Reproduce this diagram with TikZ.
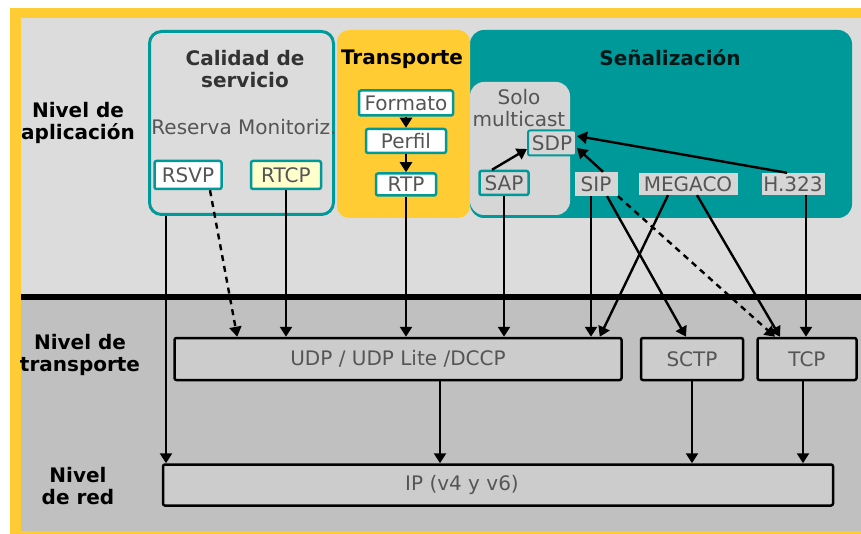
\documentclass[tikz,border=0pt]{standalone}
\usepackage{fontspec}
\setmainfont{DejaVu Sans}
\usetikzlibrary{arrows.meta,positioning}

\definecolor{marco}{HTML}{FFCC33}
\definecolor{fondoapl}{HTML}{DCDCDC}
\definecolor{fondotr}{HTML}{C0C0C0}
\definecolor{verde}{HTML}{009999}
\definecolor{grismulti}{HTML}{D6D6D6}
\definecolor{griscapa}{HTML}{CCCCCC}
\definecolor{textobox}{HTML}{555555}
\definecolor{crema}{HTML}{FFFFCC}
\newcommand{\letra}{\fontsize{20}{22}\selectfont}

\tikzset{
  nivel/.style={font=\letra\bfseries, align=center},
  grupo/.style={line width=3pt, rounded corners=12pt, inner sep=0pt},
  proto/.style={draw=verde, line width=2.5pt, fill=white, text=textobox,
    font=\letra, inner sep=0pt, rounded corners=2pt},
  senal/.style={fill=grismulti, text=textobox, font=\letra, inner sep=0pt},
  capa/.style={draw=black, line width=2.5pt, fill=griscapa, text=textobox,
    font=\letra, inner sep=0pt, minimum height=42pt, rounded corners=2pt},
  flecha/.style={line width=2.4pt, -{Triangle[length=10pt,width=12pt]}},
  discont/.style={flecha, dash pattern=on 6pt off 5pt},
}

\begin{document}
\begin{tikzpicture}[x=1pt,y=-1pt]
\useasboundingbox (0,0) rectangle (861,534);
% fondo
\fill[white] (0,0) rectangle (861,534);
\fill[marco] (10,8) rectangle (861,534);
\fill[fondoapl] (21,18) rectangle (861,297);
\fill[fondotr] (21,297) rectangle (861,531);
\draw[line width=6.5pt] (21,297) -- (861,297);

% niveles
\node[nivel] (napl) at (78,123) {Nivel de\\aplicación};
\node[nivel] (ntra) at (80,355) {Nivel de\\transporte};
\node[nivel] (nred) at (78,486) {Nivel\\de red};

% grupos del nivel de aplicacion
\node[grupo, draw=verde, minimum width=184pt, minimum height=183pt] (qos) at (241.5,123) {};
\node[grupo, fill=verde, rounded corners=14pt, minimum width=382pt, minimum height=188pt] (sen) at (661,124) {};
\node[grupo, fill=marco, minimum width=133pt, minimum height=188pt] (tra) at (403.5,124) {};
\node[grupo, fill=grismulti, rounded corners=14pt, minimum width=100pt, minimum height=133pt] (multi) at (520,148.5) {};

\node[nivel, text=black!80] (tqos) at (245,69) {Calidad de\\servicio};
\node[font=\letra, text=textobox] (reserva) at (244,127) {Reserva Monitoriz.};
\node[nivel] (ttra) at (402,59) {Transporte};
\node[nivel, text=black!85!verde] (tsen) at (670,58) {Señalización};
\node[font=\letra, text=textobox, align=center] (tmulti) at (519,108) {Solo\\multicast};

% protocolos
\node[proto, minimum width=67pt, minimum height=28pt] (rsvp) at (188,175) {RSVP};
\node[proto, fill=crema, minimum width=70pt, minimum height=28pt] (rtcp) at (286,175) {RTCP};
\node[proto, minimum width=94pt, minimum height=25pt] (formato) at (406,103) {Formato};
\node[proto, minimum width=80pt, minimum height=24pt, below=11pt of formato] (perfil) {Perfil};
\node[proto, minimum width=60pt, minimum height=22pt, below=18pt of perfil] (rtp) {RTP};
\node[proto, fill=grismulti, line width=2pt, minimum width=48pt, minimum height=25pt] (sdp) at (552,143) {SDP};
\node[proto, fill=grismulti, minimum width=49pt, minimum height=24pt] (sap) at (504,183) {SAP};
\node[senal, minimum width=43pt, minimum height=24pt] (sip) at (596,184) {SIP};
\node[senal, minimum width=99pt, minimum height=22pt] (megaco) at (688,184) {MEGACO};
\node[senal, minimum width=63pt, minimum height=22pt] (h323) at (793,184) {H.323};

% transporte y red
\node[capa, minimum width=447pt] (udp) at (398,359) {UDP / UDP Lite /DCCP};
\node[capa, minimum width=102pt] (sctp) at (692,359) {SCTP};
\node[capa, minimum width=99pt] (tcp) at (807,359) {TCP};
\node[capa, minimum width=670pt, minimum height=41pt,
  label={[name=tip, font=\letra, text=textobox, xshift=-36pt]center:IP (v4 y v6)}] (ip) at (498,485) {};

% aplicacion
\draw[flecha] (formato) -- (perfil);
\draw[flecha] (perfil) -- (rtp);
\draw[flecha] ([xshift=-12pt]sap.north) -- ([yshift=-6pt]sdp.west);
\draw[flecha] ([xshift=7pt]sip.north) -- ([yshift=-5pt]sdp.east);
\draw[flecha] ([xshift=-6pt]h323.north) -- ([yshift=7pt]sdp.east);
% hacia transporte
\draw[discont] ([xshift=22pt]rsvp.south) -- ([xshift=64pt]udp.north west);
\draw[flecha] (rtcp) -- (rtcp |- udp.north);
\draw[flecha] (rtp) -- (rtp |- udp.north);
\draw[flecha] (sap) -- (sap |- udp.north);
\draw[flecha] ([xshift=-5pt]sip.south) -- ([xshift=-5pt]sip.south |- udp.north);
\draw[flecha] ([xshift=-20pt]megaco.south) -- ([xshift=-23pt]udp.north east);
\draw[flecha] ([xshift=11pt]sip.south) -- ([xshift=-6pt]sctp.north);
\draw[discont] ([xshift=22pt]sip.south) -- ([xshift=-32pt]tcp.north);
\draw[flecha] ([xshift=9pt]megaco.south) -- ([xshift=-27pt]tcp.north);
\draw[flecha] ([xshift=13pt]h323.south) -- ([xshift=13pt]h323.south |- tcp.north);
% hacia red
\draw[flecha] ([xshift=18pt]qos.south west) -- ([xshift=18pt]qos.south west |- ip.north);
\draw[flecha] ([xshift=42pt]udp.south) -- ([xshift=42pt]udp.south |- ip.north);
\draw[flecha] (sctp) -- (sctp |- ip.north);
\draw[flecha] ([xshift=-4pt]tcp.south) -- ([xshift=-4pt]tcp.south |- ip.north);
\end{tikzpicture}
\end{document}
